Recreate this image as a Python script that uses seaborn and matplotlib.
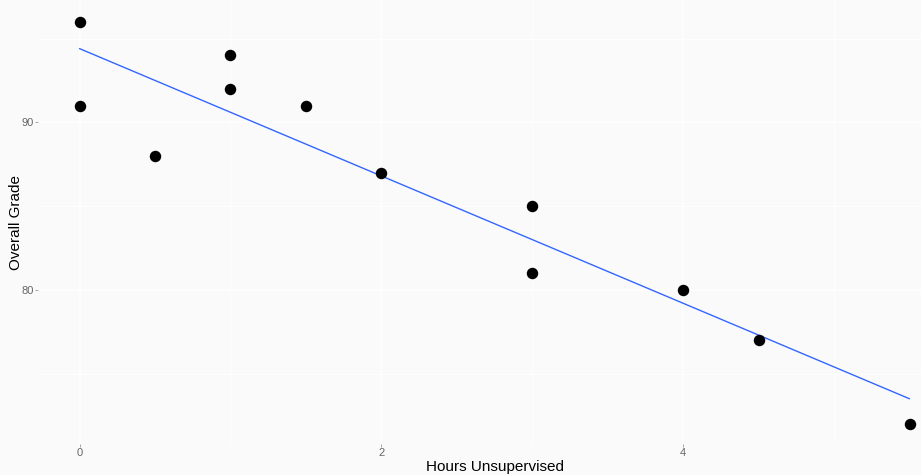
import matplotlib
matplotlib.use("Agg")
import matplotlib.pyplot as plt
import seaborn as sns
import pandas as pd
from matplotlib.ticker import MultipleLocator

hours = [0, 0, 0.5, 1, 1, 1.5, 2, 3, 3, 4, 4.5, 5.5]
grade = [96, 91, 88, 94, 92, 91, 87, 85, 81, 80, 77, 72]
x_ticks = [0, 2, 4]
y_ticks = [80, 90]

df = pd.DataFrame({"Hours Unsupervised": hours, "Overall Grade": grade})

sns.set_theme(style="white")
plt.rcParams['font.family'] = ['Liberation Sans', 'DejaVu Sans']

bg = "#FAFAFA"
fig = plt.figure(figsize=(9.21, 4.75), dpi=100, facecolor=bg)
W, H = 921, 475
left, right, top, bottom = 38, 951, 0, 444
ax = fig.add_axes([left / W, (H - bottom) / H, (right - left) / W, (bottom - top) / H])
ax.set_facecolor(bg)

sns.regplot(data=df, x="Hours Unsupervised", y="Overall Grade", ax=ax, ci=None,
            scatter_kws=dict(s=68, color="black", alpha=1, linewidths=0, zorder=3),
            line_kws=dict(color="#3366FF", linewidth=1.0, zorder=2))

ax.set_xlim(-0.275, 5.775)
ax.set_ylim(70.8, 97.3)
ax.set_xticks(x_ticks)
ax.set_yticks(y_ticks)
ax.xaxis.set_minor_locator(MultipleLocator(1))
ax.yaxis.set_minor_locator(MultipleLocator(5))
ax.grid(which="major", color="white", linewidth=1.1)
ax.grid(which="minor", color="white", linewidth=0.6)
ax.set_axisbelow(True)
for s in ax.spines.values():
    s.set_visible(False)
ax.tick_params(axis="both", which="major", length=2, width=0.5, color="#888888",
               labelsize=8, labelcolor="#666666", pad=1, direction="out",
               bottom=True, left=True)
ax.tick_params(axis="both", which="minor", length=0)
ax.set_xlabel("Hours Unsupervised", fontsize=11, color="black", labelpad=1)
ax.set_ylabel("Overall Grade", fontsize=11, color="black", labelpad=-1)

fig.savefig("out.png", dpi=100, facecolor=bg)
